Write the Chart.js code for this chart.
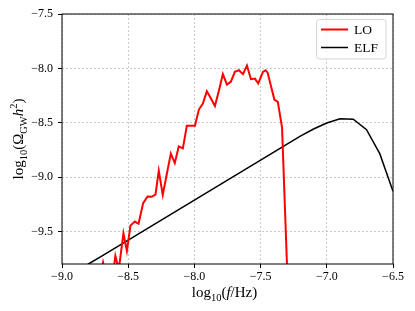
<!DOCTYPE html>
<html>
<head>
<meta charset="utf-8">
<script src="https://cdn.jsdelivr.net/npm/chart.js@4"></script>
<style>
  body { margin: 0; background: #fff; }
</style>
</head>
<body>
<canvas id="chart" width="415" height="311"></canvas>
<script>
// LO spectrum (log10 f, log10 Omega h^2)
const loFreq = [-8.72, -8.690, -8.66, -8.62, -8.597, -8.571, -8.536, -8.510, -8.483, -8.450,
  -8.422, -8.387, -8.354, -8.324, -8.294, -8.269, -8.239, -8.208, -8.178, -8.148,
  -8.118, -8.087, -8.057, -8.027, -7.996, -7.966, -7.936, -7.906, -7.875, -7.845,
  -7.815, -7.785, -7.754, -7.724, -7.694, -7.664, -7.633, -7.603, -7.573, -7.543,
  -7.518, -7.482, -7.462, -7.447, -7.396, -7.370, -7.338, -7.295];
const loOmega = [-9.95, -9.785, -9.95, -9.95, -9.725, -9.85, -9.517, -9.680, -9.447, -9.410,
  -9.430, -9.240, -9.179, -9.182, -9.161, -8.942, -9.164, -8.970, -8.785, -8.871,
  -8.718, -8.736, -8.527, -8.527, -8.527, -8.379, -8.324, -8.210, -8.278, -8.346,
  -8.207, -8.053, -8.149, -8.121, -8.032, -8.017, -8.053, -7.974, -8.100, -8.094,
  -8.139, -8.032, -8.017, -8.040, -8.287, -8.309, -8.545, -10.0];

// ELF spectrum
const elfFreq = [-9.0, -8.9, -8.8, -8.7, -8.6, -8.5, -8.4, -8.3, -8.2, -8.1, -8.0, -7.9, -7.8,
  -7.7, -7.6, -7.5, -7.4, -7.3, -7.2, -7.1, -7.0, -6.9, -6.8, -6.7, -6.6, -6.5];
const elfOmega = [-9.947, -9.874, -9.800, -9.727, -9.653, -9.580, -9.506, -9.433, -9.359, -9.286,
  -9.212, -9.139, -9.065, -8.992, -8.918, -8.845, -8.771, -8.698, -8.624, -8.558,
  -8.503, -8.463, -8.468, -8.564, -8.785, -9.130];

const seriesLabels = ['LO', 'ELF'];
const xTicks = [-9.0, -8.5, -8.0, -7.5, -7.0, -6.5];
const yTicks = [-9.5, -9.0, -8.5, -8.0, -7.5];

const FONT = '"Liberation Serif", "Times New Roman", serif';

function pts(xs, ys) {
  return xs.map((x, i) => ({ x: x, y: ys[i] }));
}
function fmt(v) {
  return v.toFixed(1).replace('-', '\u2212');
}

// draw text made of pieces (normal / italic / sub / sup)
function richWidth(ctx, segs, size) {
  let w = 0;
  segs.forEach(s => {
    const sz = (s.sub || s.sup) ? size * 0.7 : size;
    ctx.font = (s.it ? 'italic ' : '') + sz + 'px ' + FONT;
    w += ctx.measureText(s.t).width;
  });
  return w;
}
function drawRich(ctx, segs, x, y, size) {
  let cx = x - richWidth(ctx, segs, size) / 2;
  segs.forEach(s => {
    const sz = (s.sub || s.sup) ? size * 0.7 : size;
    ctx.font = (s.it ? 'italic ' : '') + sz + 'px ' + FONT;
    let dy = 0;
    if (s.sub) dy = size * 0.28;
    if (s.sup) dy = -size * 0.42;
    ctx.fillText(s.t, cx, y + dy);
    cx += ctx.measureText(s.t).width;
  });
}

const xTitle = [{ t: 'log' }, { t: '10', sub: true }, { t: '(' }, { t: 'f', it: true }, { t: '/Hz)' }];
const yTitle = [{ t: 'log' }, { t: '10', sub: true }, { t: '(\u03A9' }, { t: 'GW', sub: true },
  { t: 'h', it: true }, { t: '2', sup: true }, { t: ')' }];

const decorations = {
  id: 'decorations',
  afterDraw(chart) {
    const ctx = chart.ctx;
    const a = chart.chartArea;
    ctx.save();
    // frame
    ctx.strokeStyle = '#000';
    ctx.lineWidth = 1;
    ctx.strokeRect(a.left, a.top, a.right - a.left, a.bottom - a.top);

    // axis titles
    ctx.fillStyle = '#000';
    ctx.textBaseline = 'alphabetic';
    ctx.textAlign = 'left';
    drawRich(ctx, xTitle, (a.left + a.right) / 2 - 3, 297, 15);
    ctx.save();
    ctx.translate(23, (a.top + a.bottom) / 2);
    ctx.rotate(-Math.PI / 2);
    drawRich(ctx, yTitle, 0, 0, 15);
    ctx.restore();

    // legend
    const lx = 316.5, ly = 19.5, lw = 69.5, lh = 39.5;
    ctx.beginPath();
    ctx.roundRect(lx, ly, lw, lh, 3);
    ctx.fillStyle = 'rgba(255,255,255,0.8)';
    ctx.fill();
    ctx.strokeStyle = '#d6d6d6';
    ctx.lineWidth = 1;
    ctx.stroke();
    chart.data.datasets.forEach((ds, i) => {
      const yy = 29.5 + i * 18;
      ctx.beginPath();
      ctx.moveTo(321, yy);
      ctx.lineTo(348, yy);
      ctx.strokeStyle = ds.borderColor;
      ctx.lineWidth = ds.borderWidth;
      ctx.stroke();
      ctx.fillStyle = '#000';
      ctx.font = '13.5px ' + FONT;
      ctx.textBaseline = 'middle';
      ctx.fillText(ds.label, 354, yy + 1);
    });
    ctx.restore();
  }
};

const ctx1 = document.getElementById('chart').getContext('2d');

const myChart = new Chart(ctx1, {
  type: 'line',
  data: {
    datasets: [{
      label: seriesLabels[0],
      data: pts(loFreq, loOmega),
      borderColor: 'rgb(255, 0, 0)',
      borderWidth: 2,
      pointRadius: 0,
      tension: 0
    }, {
      label: seriesLabels[1],
      data: pts(elfFreq, elfOmega),
      borderColor: 'rgb(0, 0, 0)',
      borderWidth: 1.5,
      pointRadius: 0,
      tension: 0
    }]
  },
  options: {
    responsive: false,
    animation: false,
    devicePixelRatio: 1,
    layout: { padding: { top: 14, right: 22, left: 0, bottom: 0 } },
    plugins: { legend: { display: false }, tooltip: { enabled: false } },
    scales: {
      x: {
        type: 'linear',
        min: -9.0,
        max: -6.5,
        afterBuildTicks: s => { s.ticks = xTicks.map(v => ({ value: v })); },
        afterFit: s => { s.height = 47; },
        ticks: {
          callback: v => fmt(v),
          color: '#000',
          font: { family: FONT, size: 12 },
          padding: 2,
          maxRotation: 0,
          autoSkip: false
        },
        grid: {
          color: 'rgba(176,176,176,0.85)',
          lineWidth: 0.8,
          tickColor: '#000',
          tickLength: 4,
          tickWidth: 1
        },
        border: { display: false, dash: [2, 2] }
      },
      y: {
        type: 'linear',
        min: -9.8,
        max: -7.5,
        afterBuildTicks: s => { s.ticks = yTicks.map(v => ({ value: v })); },
        afterFit: s => { s.width = 62; },
        ticks: {
          callback: v => fmt(v),
          color: '#000',
          font: { family: FONT, size: 12 },
          padding: 5,
          autoSkip: false
        },
        grid: {
          color: 'rgba(176,176,176,0.85)',
          lineWidth: 0.8,
          tickColor: '#000',
          tickLength: 4,
          tickWidth: 1
        },
        border: { display: false, dash: [2, 2] }
      }
    }
  },
  plugins: [decorations]
});
</script>
</body>
</html>
